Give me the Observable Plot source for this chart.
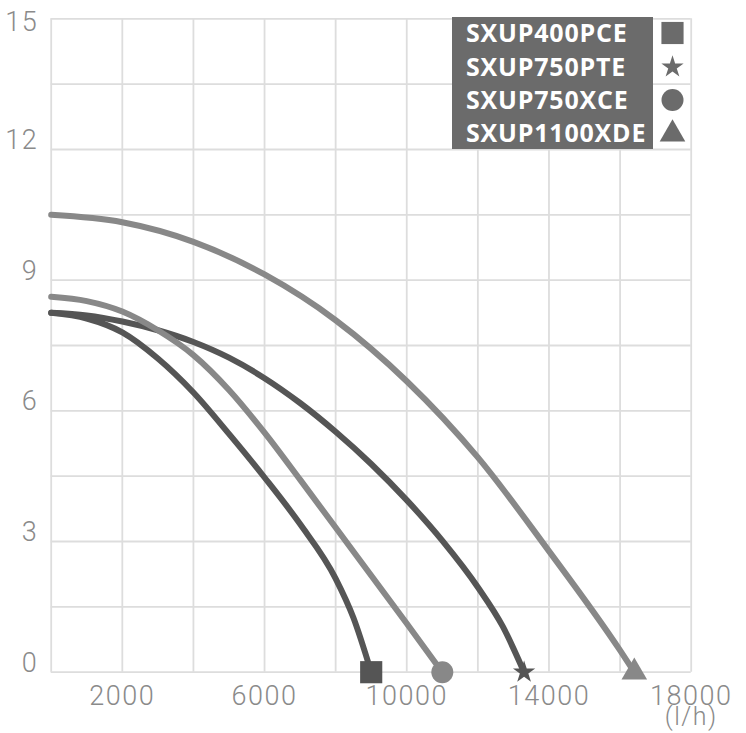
<!DOCTYPE html>
<html><head><meta charset="utf-8">
<script src="https://cdn.jsdelivr.net/npm/d3@7"></script>
<script src="https://cdn.jsdelivr.net/npm/@observablehq/plot@0.6"></script>
<style>
html,body{margin:0;padding:0;background:#fff;}
#chart{position:relative;width:746px;height:733px;}
</style></head><body><div id="chart"></div>
<script>
const models = ["SXUP400PCE", "SXUP750PTE", "SXUP750XCE", "SXUP1100XDE"];
const symbols = ["square", "star", "circle", "triangle"];
const colors = ["#555555", "#555555", "#888888", "#888888"];

const flowPCE = [0, 1000, 2000, 3000, 4000, 5000, 6000, 7000, 8000, 8500, 9000];
const headPCE = [8.25, 8.12, 7.8, 7.2, 6.42, 5.47, 4.47, 3.4, 2.15, 1.25, 0];

const flowPTE = [0, 1000, 2000, 3000, 4000, 5000, 6000, 7000, 8000, 9000, 10000, 11000, 12000, 12700, 13300];
const headPTE = [8.25, 8.19, 8.05, 7.85, 7.58, 7.22, 6.75, 6.18, 5.52, 4.78, 3.95, 3.02, 1.95, 1.05, 0];

const flowXCE = [0, 1000, 2000, 3000, 4000, 5000, 6000, 7000, 8000, 9000, 10000, 11000];
const headXCE = [8.62, 8.52, 8.28, 7.85, 7.28, 6.48, 5.5, 4.42, 3.32, 2.22, 1.12, 0];

const flowXDE = [0, 2000, 4000, 6000, 8000, 10000, 12000, 14000, 16000, 16400];
const headXDE = [10.5, 10.33, 9.88, 9.13, 8.08, 6.68, 4.93, 2.78, 0.5, 0];

const xTicks = [2000, 6000, 10000, 14000, 18000];
const yTicks = [0, 3, 6, 9, 12];
const yTopTick = [15];
const xGrid = [0, 2000, 4000, 6000, 8000, 10000, 12000, 14000, 16000, 18000];
const yGrid = [0, 1.5, 3, 4.5, 6, 7.5, 9, 10.5, 12, 13.5, 15];
const unitLabel = "(l/h)";

const flows = [flowPCE, flowPTE, flowXCE, flowXDE];
const heads = [headPCE, headPTE, headXCE, headXDE];
const series = models.map((m, i) => flows[i].map((q, j) => ({model: m, flow: q, head: heads[i][j]})));
const ends = series.map(s => s[s.length - 1]);

const tickFont = {fontFamily: "Roboto", fontWeight: 300, fontSize: 27, fill: "#8a8a8a"};
const symbolR = {square: 12.5, star: 7, circle: 11, triangle: 9.5};

const marks = [
  Plot.ruleX(xGrid, {x: d => d, stroke: "#dddddd", strokeWidth: 1.8}),
  Plot.ruleY(yGrid, {y: d => d, stroke: "#dddddd", strokeWidth: 1.8}),
];
[0, 1, 2, 3].forEach(i => {
  marks.push(Plot.line(series[i], {x: "flow", y: "head", stroke: colors[i], strokeWidth: 6, curve: "monotone-x"}));
});
[0, 1, 2, 3].forEach(i => {
  marks.push(Plot.dot([ends[i]], {x: "flow", y: "head", symbol: () => symbols[i], fill: colors[i], stroke: "none", r: symbolR[symbols[i]]}));
});
marks.push(
  Plot.text(xTicks, {x: d => d, y: () => 0, text: d => String(d), dy: 24, lineAnchor: "middle", textAnchor: "middle", ...tickFont}),
  Plot.text([unitLabel], {x: () => 18000, y: () => 0, text: d => d, dy: 45, lineAnchor: "middle", textAnchor: "middle", ...tickFont, fontSize: 25}),
  Plot.text(yTicks, {x: () => 0, y: d => d, text: d => String(d), dx: -13, dy: -9, textAnchor: "end", lineAnchor: "middle", ...tickFont}),
  Plot.text(yTopTick, {x: () => 0, y: d => d, text: d => String(d), dx: -13, dy: 4, textAnchor: "end", lineAnchor: "middle", ...tickFont})
);

const chart = Plot.plot({
  width: 746,
  height: 733,
  marginLeft: 50.7,
  marginRight: 55.3,
  marginTop: 18.3,
  marginBottom: 61.3,
  x: {domain: [0, 18000], axis: null},
  y: {domain: [0, 15], axis: null},
  symbol: {type: "identity"},
  style: {background: "#fff", overflow: "visible", letterSpacing: "1.5px"},
  marks
});
document.getElementById("chart").appendChild(chart);

// legend box
const svg = d3.select(chart);
const lg = svg.append("g").attr("text-anchor", "start").style("letter-spacing", "0.8px");
lg.append("rect").attr("x", 452).attr("y", 17).attr("width", 201).attr("height", 132).attr("fill", "#6b6b6b");
const rowY = [33, 67, 100, 133];
models.forEach((m, i) => {
  lg.append("text").attr("x", 466).attr("y", rowY[i]).attr("dy", "0.36em").attr("text-anchor", "start")
    .attr("font-family", "'Open Sans', 'DejaVu Sans', sans-serif").attr("font-weight", 700)
    .attr("font-size", 25).attr("fill", "#ffffff").text(m);
  const sym = {square: d3.symbolSquare, star: d3.symbolStar, circle: d3.symbolCircle, triangle: d3.symbolTriangle}[symbols[i]];
  const r = symbolR[symbols[i]];
  lg.append("path").attr("transform", `translate(672.5,${rowY[i] + (symbols[i] === "triangle" ? 1 : 0)})`)
    .attr("d", d3.symbol(sym, Math.PI * r * r)()).attr("fill", "#6b6b6b");
});
</script></body></html>
